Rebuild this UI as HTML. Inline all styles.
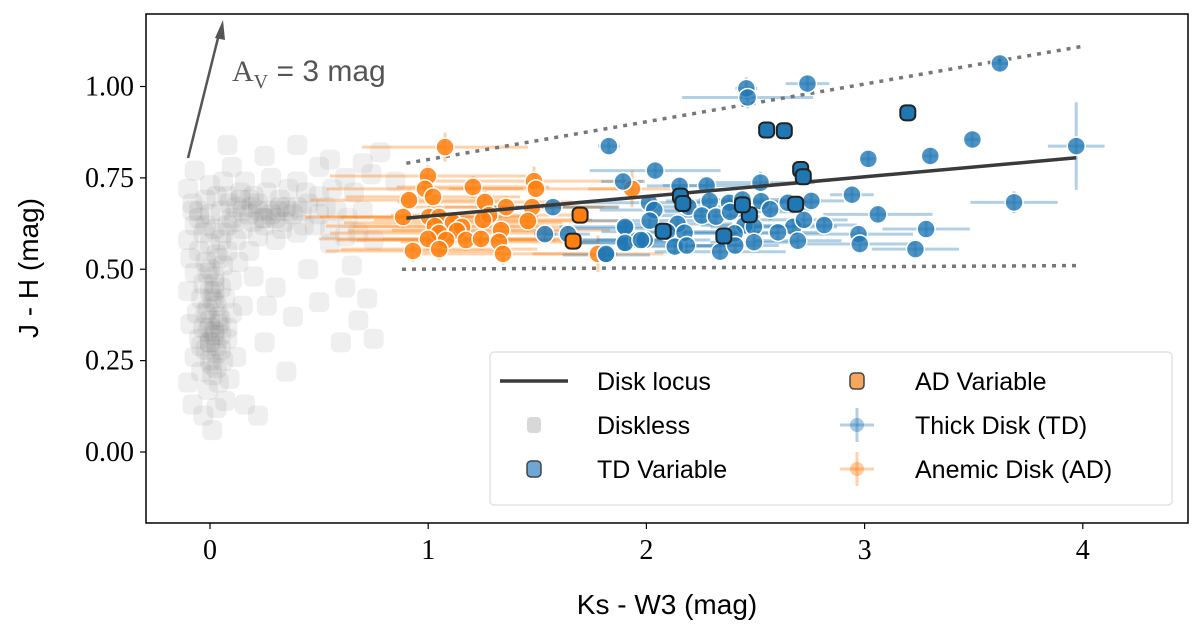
<!DOCTYPE html>
<html><head><meta charset="utf-8">
<style>
html,body{margin:0;padding:0;background:#fff;}
svg{display:block;}
.tick{font-family:"Liberation Serif",serif;font-size:28px;fill:#000;}
.sans{font-family:"Liberation Sans",sans-serif;}
</style></head>
<body>
<svg id="chart" width="1200" height="630" viewBox="0 0 1200 630">
<g id="plot"></g>
</svg>
<script>
const xTicks=[0,1,2,3,4];
const xTickLabels=["0","1","2","3","4"];
const yTicks=[0,0.25,0.5,0.75,1.0];
const yTickLabels=["0.00","0.25","0.50","0.75","1.00"];
const locusX=[0.9,3.97];
const locusY=[0.64,0.805];
const upperX=[0.9,4.0];
const upperY=[0.79,1.11];
const lowerX=[0.88,3.97];
const lowerY=[0.50,0.51];
const grayX=[0.01,-0.03,0.03,-0.08,0.07,0.16,0.22,-0.01,0.04,-0.10,0.09,-0.04,0.01,0.06,-0.07,0.12,-0.02,0.03,0.0,-0.05,0.05,0.02,-0.03,0.08,-0.09,0.0,0.04,-0.06,0.10,-0.01,0.02,-0.04,0.07,0.15,-0.10,0.0,0.05,-0.03,0.02,0.10,-0.07,0.0,0.06,-0.02,0.13,-0.09,0.03,-0.05,0.08,0.18,0.0,-0.1,0.05,0.12,-0.03,0.22,0.3,0.02,-0.07,
0.08,0.15,0.2,0.25,0.33,0.4,0.48,0.55,0.62,0.68,0.75,-0.05,0.0,0.05,0.1,0.12,0.18,0.22,0.27,0.3,0.35,0.38,0.42,0.45,0.5,0.53,0.58,0.63,0.7,-0.08,-0.02,0.03,0.08,0.14,0.2,0.26,0.32,0.36,0.44,0.5,0.56,0.66,-0.1,0.0,0.06,0.16,0.28,0.4,0.62,0.74,-0.07,0.1,0.5,0.7,0.85,0.08,0.25,0.4,0.55,0.78,
0.45,0.5,0.38,0.35,0.6,0.68,0.72,0.3,0.26,0.75,0.55,0.65,0.2,0.25,0.62,
0.0,0.02,0.04,-0.02,0.01,0.03,0.0,0.02,0.05,0.22,0.28,0.32,0.36,0.25,0.15,0.4,0.18,-0.01,0.03,0.01,
-0.05,-0.02,0.06,0.09,-0.08,0.11,0.14,0.19,0.24,0.31,0.05,-0.04,0.0,0.03,0.08,0.02,-0.01,0.04,0.34,0.43];
const grayY=[0.06,0.10,0.12,0.13,0.14,0.13,0.10,0.17,0.19,0.19,0.20,0.22,0.24,0.25,0.26,0.26,0.28,0.29,0.30,0.31,0.32,0.33,0.34,0.34,0.35,0.36,0.37,0.38,0.38,0.39,0.41,0.42,0.42,0.40,0.44,0.44,0.45,0.46,0.48,0.47,0.49,0.50,0.51,0.52,0.52,0.53,0.54,0.55,0.55,0.55,0.57,0.58,0.58,0.58,0.60,0.59,0.58,0.61,0.62,
0.62,0.61,0.63,0.62,0.61,0.60,0.62,0.61,0.59,0.60,0.58,0.64,0.65,0.66,0.64,0.67,0.65,0.68,0.66,0.64,0.67,0.65,0.66,0.68,0.65,0.67,0.66,0.64,0.66,0.68,0.69,0.70,0.70,0.71,0.70,0.71,0.69,0.72,0.71,0.70,0.72,0.71,0.72,0.73,0.74,0.74,0.75,0.74,0.75,0.76,0.77,0.78,0.78,0.79,0.74,0.84,0.81,0.84,0.80,0.82,
0.50,0.41,0.37,0.22,0.30,0.36,0.42,0.45,0.40,0.31,0.57,0.51,0.48,0.30,0.45,
0.30,0.32,0.35,0.38,0.42,0.27,0.25,0.46,0.36,0.66,0.65,0.67,0.66,0.64,0.66,0.67,0.69,0.33,0.40,0.21,
0.66,0.62,0.60,0.68,0.66,0.63,0.69,0.67,0.64,0.66,0.28,0.29,0.34,0.23,0.31,0.44,0.49,0.53,0.63,0.62];
const tdX=[2.458,2.464,2.738,3.620,1.828,3.494,3.970,3.017,3.301,2.040,1.893,2.523,2.152,2.276,2.942,3.685,2.012,2.290,2.379,2.440,2.526,2.648,2.756,2.036,2.192,2.567,3.061,2.254,2.319,2.384,2.015,2.143,2.449,2.493,2.673,2.722,2.815,1.904,2.094,2.175,2.404,2.603,3.282,2.972,1.904,1.960,1.992,2.130,2.185,2.338,2.407,2.493,2.694,2.978,3.233,1.816,1.572,1.535,1.641,1.902,1.902,1.815,1.975];
const tdY=[0.995,0.970,1.008,1.063,0.837,0.855,0.837,0.802,0.810,0.770,0.740,0.737,0.728,0.729,0.704,0.683,0.682,0.687,0.682,0.691,0.686,0.682,0.687,0.662,0.671,0.664,0.650,0.647,0.644,0.657,0.633,0.624,0.620,0.616,0.616,0.635,0.621,0.612,0.603,0.600,0.598,0.601,0.610,0.596,0.572,0.580,0.580,0.562,0.565,0.548,0.565,0.574,0.578,0.569,0.555,0.539,0.670,0.596,0.596,0.616,0.572,0.542,0.580];
const tdXerr=[0.05,0.3,0.1,0.04,0.05,0.03,0.13,0.03,0.03,0.3,0.1,0.25,0.15,0.2,0.1,0.2,0.3,0.2,0.25,0.2,0.2,0.15,0.15,0.25,0.2,0.2,0.25,0.25,0.2,0.3,0.3,0.25,0.2,0.2,0.2,0.2,0.15,0.25,0.3,0.25,0.2,0.2,0.2,0.25,0.25,0.25,0.3,0.2,0.25,0.3,0.2,0.2,0.2,0.25,0.2,0.2,0.3,0.05,0.1,0.3,0.2,0.05,0.2];
const tdYerr=[0.03,0.03,0.02,0.02,0.02,0.02,0.12,0.02,0.02,0.02,0.02,0.03,0.02,0.02,0.02,0.03,0.02,0.02,0.02,0.02,0.02,0.02,0.02,0.02,0.02,0.03,0.02,0.02,0.02,0.02,0.02,0.02,0.02,0.02,0.02,0.02,0.02,0.02,0.02,0.02,0.02,0.02,0.02,0.02,0.02,0.02,0.02,0.02,0.02,0.02,0.02,0.02,0.02,0.02,0.02,0.02,0.02,0.02,0.02,0.02,0.02,0.02,0.02];
const adX=[1.077,0.999,0.985,1.022,0.912,1.205,1.260,1.485,1.494,1.934,0.885,1.004,1.050,1.357,1.476,1.279,1.251,1.114,1.155,1.031,1.457,1.050,1.132,1.334,1.082,0.999,1.173,1.242,1.324,0.930,1.050,1.343,1.778];
const adY=[0.834,0.755,0.720,0.698,0.689,0.725,0.684,0.741,0.720,0.720,0.643,0.643,0.643,0.670,0.670,0.648,0.635,0.627,0.616,0.618,0.632,0.599,0.605,0.607,0.580,0.583,0.580,0.583,0.575,0.550,0.555,0.542,0.542];
const adXerr=[0.38,0.45,0.45,0.4,0.45,0.35,0.4,0.5,0.4,0.2,0.45,0.5,0.45,0.45,0.4,0.45,0.5,0.5,0.5,0.5,0.45,0.5,0.5,0.5,0.5,0.5,0.5,0.45,0.45,0.4,0.45,0.4,0.3];
const adYerr=[0.04,0.03,0.03,0.03,0.03,0.03,0.03,0.04,0.04,0.05,0.03,0.03,0.03,0.03,0.03,0.03,0.03,0.03,0.03,0.03,0.03,0.03,0.03,0.03,0.03,0.03,0.03,0.03,0.03,0.03,0.03,0.03,0.05];
const tdvX=[2.551,2.632,3.198,2.707,2.719,2.156,2.167,2.684,2.472,2.077,2.355,2.44];
const tdvY=[0.881,0.879,0.928,0.773,0.753,0.700,0.680,0.678,0.649,0.604,0.591,0.676];
const advX=[1.696,1.664];
const advY=[0.648,0.577];

const NS="http://www.w3.org/2000/svg";
const L=146,R=1188,T=14,B=523;
const xs=v=>210+218.2*v;
const ys=v=>452-365.5*v;
const svg=document.getElementById('chart');
const plot=document.getElementById('plot');
function mk(tag,attrs,parent){const e=document.createElementNS(NS,tag);for(const k in attrs)e.setAttribute(k,attrs[k]);(parent||svg).appendChild(e);return e;}

const clip=mk('clipPath',{id:'clp'});mk('rect',{x:L,y:T,width:R-L,height:B-T},clip);
plot.setAttribute('clip-path','url(#clp)');

grayX.forEach((x,i)=>{
 const e=mk('rect',{x:xs(x)-10,y:ys(grayY[i])-10,width:20,height:20,rx:6,fill:'#7a7a7a','fill-opacity':0.12},plot);
 
 
});
function errs(X,Y,XE,YE,col){
 X.forEach((x,i)=>{
  const g=mk('g',{stroke:col,'stroke-opacity':0.35,'stroke-width':3},plot);
  
  
  mk('line',{x1:xs(x-XE[i]),x2:xs(x+XE[i]),y1:ys(Y[i]),y2:ys(Y[i])},g);
  mk('line',{x1:xs(x),x2:xs(x),y1:ys(Y[i]-YE[i]),y2:ys(Y[i]+YE[i])},g);
 });
}
errs(adX,adY,adXerr,adYerr,'#ff7f0e');
errs(tdX,tdY,tdXerr,tdYerr,'#1f77b4');
function line(X,Y,attrs,name){
 const e=mk('line',Object.assign({x1:xs(X[0]),y1:ys(Y[0]),x2:xs(X[1]),y2:ys(Y[1])},attrs),plot);
 
 
}
line(upperX,upperY,{stroke:'#777','stroke-width':3.5,'stroke-dasharray':'4 6'},'upper-boundary');
line(lowerX,lowerY,{stroke:'#777','stroke-width':3.5,'stroke-dasharray':'4 6'},'lower-boundary');
adX.forEach((x,i)=>{
 const e=mk('circle',{cx:xs(x),cy:ys(adY[i]),r:9,fill:'#ff7f0e','fill-opacity':0.85,stroke:'#fff','stroke-width':1.5},plot);
 
 
});
tdX.forEach((x,i)=>{
 const e=mk('circle',{cx:xs(x),cy:ys(tdY[i]),r:9,fill:'#1f77b4','fill-opacity':0.8,stroke:'#fff','stroke-width':1.5},plot);
 
 
});
line(locusX,locusY,{stroke:'#3a3a3a','stroke-width':3.5},'disk-locus-line');
tdvX.forEach((x,i)=>{
 const e=mk('rect',{x:xs(x)-7.5,y:ys(tdvY[i])-7.5,width:15,height:15,rx:5,fill:'#1f77b4',stroke:'#222','stroke-width':2},plot);
 
 
});
advX.forEach((x,i)=>{
 const e=mk('rect',{x:xs(x)-7.5,y:ys(advY[i])-7.5,width:15,height:15,rx:5,fill:'#ff7f0e',stroke:'#222','stroke-width':2},plot);
 
 
});
const fr=mk('rect',{x:L,y:T,width:R-L,height:B-T,fill:'none',stroke:'#000','stroke-width':1.5});


xTicks.forEach((v,i)=>{
 mk('line',{x1:xs(v),x2:xs(v),y1:B,y2:B+6,stroke:'#000','stroke-width':1.2});
 const t=mk('text',{x:xs(v),y:B+36,'text-anchor':'middle',class:'tick'});t.textContent=xTickLabels[i];
 
 
});
yTicks.forEach((v,i)=>{
 mk('line',{x1:L-6,x2:L,y1:ys(v),y2:ys(v),stroke:'#000','stroke-width':1.2});
 const t=mk('text',{x:L-12,y:ys(v)+9,'text-anchor':'end',class:'tick'});t.textContent=yTickLabels[i];
 
 
});
</script>
<script>
const s2=document.getElementById('chart');
s2.insertAdjacentHTML('beforeend',`
<text x="667" y="614" text-anchor="middle" class="sans" font-size="28">Ks - W3 (mag)</text>
<text transform="translate(38,268) rotate(-90)" text-anchor="middle" class="sans" font-size="28">J - H (mag)</text>
<g>
<line x1="188" y1="158" x2="219" y2="34" stroke="#555" stroke-width="2.5"/>
<polygon points="223,20 215,38 225,40" fill="#555"/>
</g>
<text x="232" y="81" fill="#555" font-size="30"><tspan font-family="Liberation Serif,serif">A</tspan><tspan font-family="Liberation Serif,serif" font-size="20" dy="7">V</tspan><tspan class="sans" dy="-7"> = 3 mag</tspan></text>
<g>
<rect x="490" y="352" width="682" height="153" rx="4" fill="#fff" fill-opacity="0.85" stroke="#ddd" stroke-width="1.2"/>
<line x1="500" y1="381" x2="568" y2="381" stroke="#3a3a3a" stroke-width="3.5"/>
<rect x="527" y="417" width="14" height="16" rx="4" fill="#d8d8d8"/>
<rect x="527" y="461" width="14" height="16" rx="4" fill="#6fa6d3" stroke="#444" stroke-width="1.5"/>
<rect x="850" y="373" width="14" height="16" rx="4" fill="#f6a75e" stroke="#444" stroke-width="1.5"/>
<g stroke="#1f77b4" stroke-opacity="0.35" stroke-width="3"><line x1="840" y1="425" x2="874" y2="425"/><line x1="857" y1="408" x2="857" y2="442"/></g>
<circle cx="857" cy="425" r="7" fill="#1f77b4" fill-opacity="0.4"/>
<g stroke="#ff7f0e" stroke-opacity="0.35" stroke-width="3"><line x1="840" y1="469" x2="874" y2="469"/><line x1="857" y1="452" x2="857" y2="486"/></g>
<circle cx="857" cy="469" r="7" fill="#ff7f0e" fill-opacity="0.4"/>
<g class="sans" font-size="25" fill="#000">
<text x="597" y="390">Disk locus</text>
<text x="597" y="434">Diskless</text>
<text x="597" y="478">TD Variable</text>
<text x="915" y="390">AD Variable</text>
<text x="915" y="434">Thick Disk (TD)</text>
<text x="915" y="478">Anemic Disk (AD)</text>
</g>
</g>`);
</script>
</body></html>
